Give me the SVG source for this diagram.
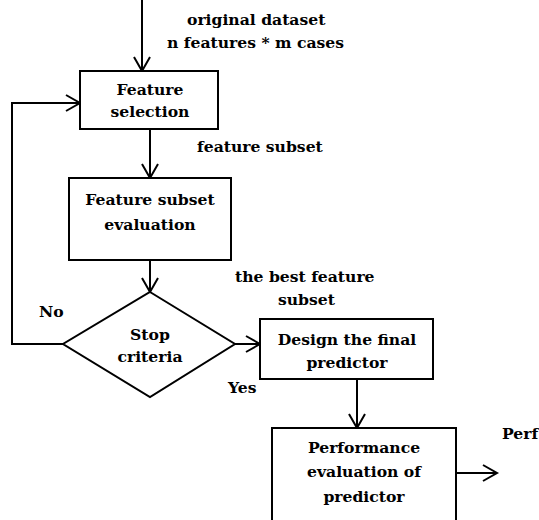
<svg xmlns="http://www.w3.org/2000/svg" width="539" height="520" viewBox="0 0 539 520">
<defs>
<marker id="arr" markerWidth="18" markerHeight="20" refX="15" refY="10" orient="auto" markerUnits="userSpaceOnUse">
<path d="M1,2 L15,10 L1,18" fill="none" stroke="#000" stroke-width="2"/>
</marker>
<style>
.box{fill:#fff;stroke:#000;stroke-width:2}
.ln{fill:none;stroke:#000;stroke-width:2}
.t{font-family:"DejaVu Serif","Liberation Serif",serif;font-weight:bold;font-size:15.6px;fill:#000}
.c{text-anchor:middle}
</style>
</defs>
<rect width="539" height="520" fill="#fff"/>
<g id="connectors">
<line class="ln" x1="142" y1="0" x2="142" y2="71" marker-end="url(#arr)"/>
<line class="ln" x1="150" y1="129" x2="150" y2="178" marker-end="url(#arr)"/>
<line class="ln" x1="150" y1="260" x2="150" y2="292" marker-end="url(#arr)"/>
<polyline class="ln" points="63,344 12,344 12,103 80,103" marker-end="url(#arr)"/>
<line class="ln" x1="235" y1="344" x2="260" y2="344" marker-end="url(#arr)"/>
<line class="ln" x1="357" y1="379" x2="357" y2="428" marker-end="url(#arr)"/>
<line class="ln" x1="456" y1="473" x2="497" y2="473" marker-end="url(#arr)"/>
</g>
<g id="labels">
<text class="t" x="187" y="25">original dataset</text>
<text class="t" x="167" y="48">n features * m cases</text>
<text class="t" x="197" y="152">feature subset</text>
<text class="t" x="39" y="317">No</text>
<text class="t" x="235" y="282">the best feature</text>
<text class="t" x="278" y="305">subset</text>
<text class="t" x="228" y="393">Yes</text>
<text class="t" x="502" y="439">Perf</text>
</g>
<g id="feature-selection">
<rect class="box" x="80" y="71" width="138" height="58"/>
<text class="t c" x="150" y="95">Feature</text>
<text class="t c" x="150" y="117">selection</text>
</g>
<g id="feature-subset-evaluation">
<rect class="box" x="69" y="178" width="162" height="82"/>
<text class="t c" x="150" y="205">Feature subset</text>
<text class="t c" x="150" y="230">evaluation</text>
</g>
<g id="stop-criteria">
<polygon class="box" points="150,292 235,344 150,397 63,344"/>
<text class="t c" x="150" y="340">Stop</text>
<text class="t c" x="150" y="362">criteria</text>
</g>
<g id="design-final-predictor">
<rect class="box" x="260" y="319" width="173" height="60"/>
<text class="t c" x="347" y="345">Design the final</text>
<text class="t c" x="347" y="368">predictor</text>
</g>
<g id="performance-evaluation">
<rect class="box" x="272" y="428" width="184" height="100"/>
<text class="t c" x="364" y="453">Performance</text>
<text class="t c" x="364" y="477">evaluation of</text>
<text class="t c" x="364" y="502">predictor</text>
</g>
</svg>
